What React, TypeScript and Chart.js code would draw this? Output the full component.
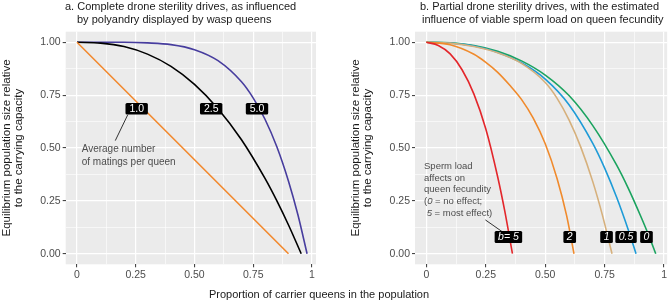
import React, { useEffect, useRef } from "react";
import { Chart, registerables } from "chart.js";

Chart.register(...registerables);

// ---------- tick data ----------
const tickValues = [0, 0.125, 0.25, 0.375, 0.5, 0.625, 0.75, 0.875, 1];
const xTickLabels = ["0", "", "0.25", "", "0.50", "", "0.75", "", "1"];
const yTickLabels = ["0.00", "", "0.25", "", "0.50", "", "0.75", "", "1.00"];

// ---------- panel a: complete drone sterility, by matings per queen ----------
const matingLabels = ["1.0", "2.5", "5.0"];
const matings10X = [0, 0.9];
const matings10Y = [1, 0];
const matings25X = [0, 0.1, 0.2, 0.3, 0.4, 0.5, 0.6, 0.7, 0.8, 0.85, 0.9, 0.954];
const matings25Y = [1, 0.996, 0.98, 0.944, 0.886, 0.801, 0.686, 0.539, 0.356, 0.251, 0.136, 0];
const matings50X = [0, 0.1, 0.2, 0.3, 0.4, 0.5, 0.6, 0.7, 0.75, 0.8, 0.85, 0.9, 0.94, 0.979];
const matings50Y = [1, 1, 1, 0.997, 0.989, 0.965, 0.913, 0.813, 0.736, 0.636, 0.507, 0.343, 0.184, 0];
const matingLabelX = [0.254, 0.571, 0.766];
const matingLabelY = [0.686, 0.686, 0.686];

// ---------- panel b: partial drone sterility, by sperm load effect b ----------
const loadLabels = ["b= 5", "2", "1", "0.5", "0"];
const load5X = [0, 0.05, 0.1, 0.15, 0.2, 0.25, 0.3, 0.33, 0.362];
const load5Y = [1, 0.985, 0.945, 0.87, 0.755, 0.59, 0.363, 0.2, 0];
const load2X = [0, 0.1, 0.2, 0.25, 0.3, 0.35, 0.4, 0.45, 0.5, 0.55, 0.59, 0.621];
const load2Y = [1, 0.988, 0.943, 0.905, 0.858, 0.798, 0.73, 0.64, 0.52, 0.355, 0.18, 0];
const load1X = [0, 0.1, 0.2, 0.3, 0.4, 0.5, 0.55, 0.6, 0.65, 0.7, 0.74, 0.781];
const load1Y = [1, 0.996, 0.98, 0.95, 0.9, 0.81, 0.735, 0.633, 0.503, 0.341, 0.185, 0];
const load05X = [0, 0.1, 0.2, 0.3, 0.4, 0.5, 0.6, 0.7, 0.75, 0.8, 0.85, 0.882];
const load05Y = [1, 0.996, 0.982, 0.952, 0.903, 0.826, 0.705, 0.522, 0.405, 0.268, 0.111, 0];
const load0X = [0, 0.1, 0.2, 0.3, 0.4, 0.5, 0.6, 0.7, 0.8, 0.85, 0.9, 0.935, 0.965];
const load0Y = [1, 0.997, 0.984, 0.957, 0.912, 0.845, 0.748, 0.606, 0.42, 0.308, 0.182, 0.088, 0];
const loadLabelX = [0.345, 0.603, 0.758, 0.84, 0.926];
const loadLabelY = [0.079, 0.079, 0.079, 0.079, 0.079];

const FONT = '"Liberation Sans", Arial, Helvetica, sans-serif';
const H = 304;

const pts = (xs: number[], ys: number[]) => xs.map((x, i) => ({ x, y: ys[i] }));
const isMajor = (v: number) => Math.abs(v * 4 - Math.round(v * 4)) < 1e-6;

type Seg = [string, boolean];
type Spec = {
  left: number;
  width: number;
  padRight: number;
  yAxisWidth: number;
  xMin: number;
  xMax: number;
  series: { xs: number[]; ys: number[]; color: string }[];
  labels: string[];
  labelX: number[];
  labelY: number[];
  labelItalic: boolean;
  labelFont: number;
  labelPad: number;
  labelH: number;
  titles: { text: string; x: number; y: number }[];
  yTitleX: number[];
  note: Seg[][];
  noteX: number;
  noteY: number[];
  noteFont: number;
  arrow: number[];
};

function decorPlugin(spec: Spec) {
  return {
    id: "decor",
    beforeDraw(chart: any) {
      const { ctx, chartArea: a } = chart;
      ctx.save();
      ctx.fillStyle = "#EBEBEB";
      ctx.fillRect(a.left, a.top, a.right - a.left, a.bottom - a.top);
      ctx.restore();
    },
    afterDatasetsDraw(chart: any) {
      const ctx = chart.ctx as CanvasRenderingContext2D;
      const xs = chart.scales.x;
      const ys = chart.scales.y;
      ctx.save();
      // arrow segment
      ctx.strokeStyle = "#333333";
      ctx.lineWidth = 1;
      ctx.beginPath();
      ctx.moveTo(xs.getPixelForValue(spec.arrow[0]), ys.getPixelForValue(spec.arrow[1]));
      ctx.lineTo(xs.getPixelForValue(spec.arrow[2]), ys.getPixelForValue(spec.arrow[3]));
      ctx.stroke();
      // note text
      ctx.fillStyle = "#4D4D4D";
      ctx.textBaseline = "middle";
      ctx.textAlign = "left";
      spec.note.forEach((line, i) => {
        let x = xs.getPixelForValue(spec.noteX);
        const y = ys.getPixelForValue(spec.noteY[i]);
        line.forEach(([t, it]) => {
          ctx.font = `${it ? "italic " : ""}${spec.noteFont}px ${FONT}`;
          ctx.fillText(t, x, y);
          x += ctx.measureText(t).width;
        });
      });
      // labels
      ctx.font = `${spec.labelItalic ? "italic " : ""}${spec.labelFont}px ${FONT}`;
      ctx.textAlign = "center";
      spec.labels.forEach((t, i) => {
        const cx = xs.getPixelForValue(spec.labelX[i]);
        const cy = ys.getPixelForValue(spec.labelY[i]);
        const w = ctx.measureText(t).width + spec.labelPad * 2;
        const h = spec.labelH;
        ctx.fillStyle = "#000000";
        ctx.beginPath();
        if ((ctx as any).roundRect) (ctx as any).roundRect(cx - w / 2, cy - h / 2, w, h, 1.5);
        else ctx.rect(cx - w / 2, cy - h / 2, w, h);
        ctx.fill();
        ctx.fillStyle = "#FFFFFF";
        ctx.fillText(t, cx, cy + 0.5);
      });
      ctx.restore();
    },
    afterDraw(chart: any) {
      const ctx = chart.ctx as CanvasRenderingContext2D;
      const a = chart.chartArea;
      ctx.save();
      ctx.fillStyle = "#1A1A1A";
      ctx.font = `11px ${FONT}`;
      ctx.textAlign = "left";
      ctx.textBaseline = "alphabetic";
      spec.titles.forEach((t) => ctx.fillText(t.text, t.x, t.y));
      // y axis title
      const cy = (a.top + a.bottom) / 2;
      const yLines = ["Equilibrium population size relative", "to the carrying capacity"];
      ctx.font = `11.5px ${FONT}`;
      ctx.textAlign = "center";
      ctx.textBaseline = "middle";
      yLines.forEach((t, i) => {
        ctx.save();
        ctx.translate(spec.yTitleX[i], cy);
        ctx.rotate(-Math.PI / 2);
        ctx.fillText(t, 0, 0);
        ctx.restore();
      });
      ctx.restore();
    },
  };
}

function buildConfig(spec: Spec): any {
  const grid = {
    color: "#FFFFFF",
    lineWidth: (c: any) => (c.tick && isMajor(c.tick.value) ? 1.2 : 0.6),
    drawTicks: true,
    tickLength: 3,
    tickWidth: 1,
    tickColor: (c: any) => (c.tick && isMajor(c.tick.value) ? "#333333" : "rgba(0,0,0,0)"),
  };
  return {
    type: "line",
    data: {
      datasets: spec.series.map((s) => ({
        data: pts(s.xs, s.ys),
        borderColor: s.color,
        borderWidth: 1.6,
        pointRadius: 0,
        fill: false,
        cubicInterpolationMode: "monotone",
      })),
    },
    options: {
      animation: false,
      responsive: false,
      devicePixelRatio: 1,
      events: [],
      layout: { padding: { top: 31.7, right: spec.padRight, bottom: 0, left: 0 } },
      plugins: { legend: { display: false }, tooltip: { enabled: false }, title: { display: false } },
      scales: {
        x: {
          type: "linear",
          min: spec.xMin,
          max: spec.xMax,
          afterBuildTicks: (s: any) => {
            s.ticks = tickValues.map((v) => ({ value: v }));
          },
          afterFit: (s: any) => {
            s.height = 39.7;
          },
          ticks: {
            autoSkip: false,
            maxRotation: 0,
            padding: 2,
            color: "#4D4D4D",
            font: { family: FONT, size: 10.5 },
            callback: (v: number) => xTickLabels[tickValues.indexOf(v)] ?? "",
          },
          grid,
          border: { display: false },
        },
        y: {
          type: "linear",
          min: -0.05,
          max: 1.05,
          afterBuildTicks: (s: any) => {
            s.ticks = tickValues.map((v) => ({ value: v }));
          },
          afterFit: (s: any) => {
            s.width = spec.yAxisWidth;
          },
          ticks: {
            autoSkip: false,
            padding: 2,
            color: "#4D4D4D",
            font: { family: FONT, size: 10.5 },
            callback: (v: number) => yTickLabels[tickValues.indexOf(v)] ?? "",
          },
          grid,
          border: { display: false },
        },
      },
    },
    plugins: [decorPlugin(spec)],
  };
}

const specA: Spec = {
  left: 0,
  width: 335,
  padRight: 19,
  yAxisWidth: 65.7,
  xMin: -0.048,
  xMax: 1.017,
  series: [
    { xs: matings10X, ys: matings10Y, color: "#F28A30" },
    { xs: matings25X, ys: matings25Y, color: "#000000" },
    { xs: matings50X, ys: matings50Y, color: "#473D9E" },
  ],
  labels: matingLabels,
  labelX: matingLabelX,
  labelY: matingLabelY,
  labelItalic: false,
  labelFont: 10.5,
  labelPad: 3.9,
  labelH: 11.5,
  titles: [
    { text: "a. Complete drone sterility drives, as influenced", x: 65, y: 10.3 },
    { text: "by polyandry displayed by wasp queens", x: 77, y: 22.8 },
  ],
  yTitleX: [7, 19],
  note: [[["Average number", false]], [["of matings per queen", false]]],
  noteX: 0.02,
  noteY: [0.495, 0.431],
  noteFont: 10,
  arrow: [0.163, 0.535, 0.216, 0.657],
};

const specB: Spec = {
  left: 335,
  width: 334,
  padRight: 1,
  yAxisWidth: 80,
  xMin: -0.048,
  xMax: 1.013,
  series: [
    { xs: load5X, ys: load5Y, color: "#E3262B" },
    { xs: load2X, ys: load2Y, color: "#F08A2C" },
    { xs: load1X, ys: load1Y, color: "#D6B07C" },
    { xs: load05X, ys: load05Y, color: "#1E9BD7" },
    { xs: load0X, ys: load0Y, color: "#1BA35F" },
  ],
  labels: loadLabels,
  labelX: loadLabelX,
  labelY: loadLabelY,
  labelItalic: true,
  labelFont: 10.5,
  labelPad: 3.4,
  labelH: 12,
  titles: [
    { text: "b. Partial drone sterility drives, with the estimated", x: 85, y: 10.3 },
    { text: "influence of viable sperm load on queen fecundity", x: 87, y: 22.8 },
  ],
  yTitleX: [21, 33],
  note: [
    [["Sperm load", false]],
    [["affects on", false]],
    [["queen fecundity", false]],
    [["(", false], ["0", true], [" = no effect;", false]],
    [[" ", false], ["5", true], [" = most effect)", false]],
  ],
  noteX: -0.01,
  noteY: [0.412, 0.354, 0.302, 0.247, 0.192],
  noteFont: 9.5,
  arrow: [0.248, 0.16, 0.318, 0.105],
};

function Panel({ spec }: { spec: Spec }) {
  const ref = useRef<HTMLCanvasElement>(null);
  useEffect(() => {
    if (!ref.current) return;
    const chart = new Chart(ref.current, buildConfig(spec));
    return () => chart.destroy();
  }, [spec]);
  return (
    <canvas
      ref={ref}
      width={spec.width}
      height={H}
      style={{ position: "absolute", left: spec.left, top: 0, width: spec.width, height: H }}
    />
  );
}

export default function App() {
  return (
    <div style={{ position: "absolute", left: 0, top: 0, width: 669, height: H, background: "#FFFFFF", overflow: "hidden" }}>
      <Panel spec={specA} />
      <Panel spec={specB} />
      <div
        style={{
          position: "absolute",
          left: 0,
          top: 287,
          width: 638,
          textAlign: "center",
          fontFamily: FONT,
          fontSize: 11,
          lineHeight: "14px",
          color: "#1A1A1A",
        }}
      >
        Proportion of carrier queens in the population
      </div>
    </div>
  );
}
